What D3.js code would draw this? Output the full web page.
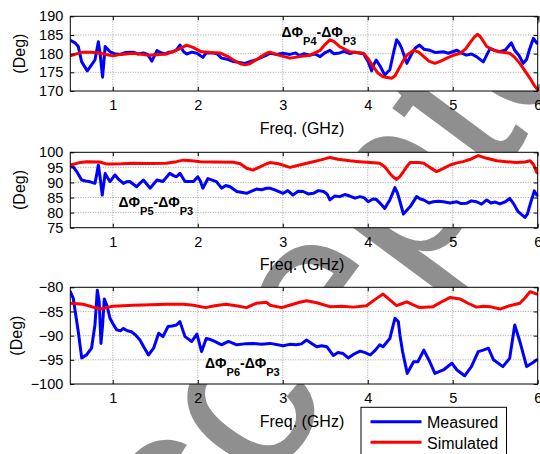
<!DOCTYPE html>
<html>
<head>
<meta charset="utf-8">
<script src="https://cdn.jsdelivr.net/npm/d3@7"></script>
<style>
  html, body { margin: 0; padding: 0; background: #fff; }
  svg { display: block; }
  text { font-family: "Liberation Sans", Arial, sans-serif; }
</style>
</head>
<body>
<svg id="chart" width="540" height="454"></svg>
<script>
// Frequency ticks shared by all three panels (GHz)
const freqTicks = [1, 2, 3, 4, 5, 6];
const freqDomain = [0.5, 6];

// Y tick labels per panel (deg)
const yTicksP4 = [170, 175, 180, 185, 190];
const yTicksP5 = [75, 80, 85, 90, 95, 100];
const yTicksP6 = [-100, -95, -90, -85, -80];

// ΔΦP4 - ΔΦP3 : [freq GHz, phase deg]
const p4Measured = [[0.5,183.6],[0.555,182.9],[0.594,181.9],[0.634,177.8],[0.70,175.4],[0.75,177],[0.79,178.3],[0.83,183.2],[0.85,180.1],[0.88,173.7],[0.91,181.9],[0.967,180.5],[1.02,180.0],[1.085,179.8],[1.15,180.3],[1.24,180.4],[1.3,179.9],[1.36,180.2],[1.41,179.8],[1.46,178.0],[1.52,180.8],[1.56,180.3],[1.61,179.9],[1.66,180.4],[1.71,180.5],[1.75,181.0],[1.79,182.3],[1.83,180.6],[1.87,179.9],[1.93,180.4],[1.99,180.1],[2.06,179.0],[2.1,180.2],[2.18,180.2],[2.23,179.9],[2.28,178.8],[2.35,178.5],[2.42,177.9],[2.555,177.4],[2.62,177.9],[2.69,178.4],[2.75,179.0],[2.81,179.6],[2.85,180.1],[2.92,179.8],[3.0,180.1],[3.085,179.8],[3.15,180.2],[3.2,179.5],[3.25,180.0],[3.32,179.6],[3.38,179.9],[3.44,179.2],[3.5,180.3],[3.555,180.9],[3.6,180.0],[3.67,180.2],[3.72,180.6],[3.79,180.0],[3.85,180.4],[3.95,180.0],[4.006,177.8],[4.046,175.4],[4.07,177.0],[4.10,178.3],[4.15,176.5],[4.20,174.3],[4.26,175.7],[4.31,180.9],[4.34,183.7],[4.37,182.8],[4.40,181.4],[4.46,177.4],[4.52,180.1],[4.56,181.5],[4.61,182.3],[4.66,181.2],[4.73,180.9],[4.8,180.3],[4.89,180.5],[4.95,180.1],[5.05,180.9],[5.1,180.2],[5.16,179.6],[5.22,179.9],[5.28,179.2],[5.36,177.8],[5.44,181.4],[5.5,180.8],[5.555,180.5],[5.62,181.0],[5.69,182.9],[5.73,180.9],[5.78,179.5],[5.83,177.4],[5.87,178.5],[5.90,180.9],[5.95,184.1],[5.99,182.8]];
const p4Simulated = [[0.5,179.4],[0.58,180.0],[0.65,180.4],[0.75,180.4],[0.85,180.1],[1.0,179.4],[1.1,179.8],[1.24,180.1],[1.43,179.6],[1.63,179.9],[1.75,180.9],[1.87,182.3],[1.95,181.6],[2.03,180.6],[2.15,180.3],[2.26,180.2],[2.35,179.3],[2.42,178.3],[2.5,177.3],[2.555,177.0],[2.6,177.2],[2.65,177.8],[2.73,179.0],[2.81,180.1],[2.85,180.4],[2.95,179.6],[3.085,178.8],[3.2,179.2],[3.32,179.6],[3.44,180.9],[3.5,182.5],[3.555,183.7],[3.6,183.3],[3.67,181.9],[3.79,180.5],[3.95,180.1],[4.0,178.8],[4.065,176.5],[4.12,174.8],[4.18,173.8],[4.28,173.4],[4.32,174.0],[4.36,175.7],[4.41,177.8],[4.46,179.6],[4.54,180.9],[4.6,180.4],[4.66,179.2],[4.72,178.0],[4.79,177.4],[4.86,178.0],[4.93,178.8],[5.0,179.5],[5.085,180.1],[5.15,181.2],[5.20,182.8],[5.25,184.3],[5.29,185.2],[5.33,184.4],[5.40,181.9],[5.48,180.9],[5.555,180.5],[5.67,180.1],[5.73,179.0],[5.79,177.4],[5.85,175.4],[5.91,173.4],[5.96,171.5],[6.0,170.3]];

// ΔΦP5 - ΔΦP3
const p5Measured = [[0.5,95.8],[0.54,95.0],[0.575,93.6],[0.634,90.8],[0.68,90.5],[0.725,90.3],[0.79,89.7],[0.81,92.5],[0.83,95.8],[0.85,91.9],[0.876,85.8],[0.91,93.0],[0.94,91.5],[0.967,90.3],[1.026,92.5],[1.07,91.0],[1.125,89.7],[1.16,90.2],[1.2,90.3],[1.28,88.6],[1.36,90.8],[1.44,88.1],[1.52,90.8],[1.59,90.3],[1.67,93.0],[1.72,92.2],[1.75,91.9],[1.79,93.0],[1.85,90.3],[1.95,90.3],[2.0,91.9],[2.03,90.5],[2.06,88.1],[2.12,91.3],[2.22,90.3],[2.28,88.1],[2.33,89.0],[2.38,88.6],[2.46,87.0],[2.575,86.4],[2.64,87.2],[2.69,87.8],[2.75,87.6],[2.81,88.1],[2.85,88.1],[2.92,87.4],[3.005,86.4],[3.06,87.3],[3.12,85.8],[3.18,87.1],[3.24,87.0],[3.3,86.2],[3.36,86.4],[3.42,87.3],[3.48,87.0],[3.52,86.2],[3.555,84.2],[3.61,85.5],[3.67,85.3],[3.73,86.0],[3.79,85.5],[3.85,84.8],[3.91,85.3],[3.96,84.9],[4.006,83.6],[4.06,84.5],[4.10,84.4],[4.15,83.0],[4.20,81.4],[4.26,84.2],[4.32,88.3],[4.35,86.5],[4.38,83.6],[4.42,79.5],[4.46,80.8],[4.50,82.0],[4.575,85.3],[4.62,84.5],[4.66,84.2],[4.72,83.2],[4.77,83.6],[4.83,83.8],[4.89,83.6],[4.97,83.2],[5.05,83.6],[5.1,83.0],[5.16,83.1],[5.22,83.9],[5.28,83.6],[5.34,82.8],[5.40,84.2],[5.45,83.2],[5.50,83.5],[5.555,82.9],[5.62,83.6],[5.67,84.7],[5.72,82.8],[5.77,80.3],[5.85,78.4],[5.88,79.6],[5.91,82.6],[5.96,87.2],[5.99,85.8]];
const p5Simulated = [[0.5,95.8],[0.6,96.5],[0.69,96.9],[0.85,96.8],[0.93,96.1],[1.1,96.2],[1.24,96.4],[1.4,96.3],[1.63,96.4],[1.75,96.9],[1.83,97.4],[1.93,97.2],[2.03,96.9],[2.2,96.8],[2.42,96.7],[2.5,96.2],[2.575,94.7],[2.65,94.1],[2.72,95.0],[2.81,96.2],[2.85,96.6],[2.95,96.2],[3.085,95.0],[3.2,95.8],[3.32,96.6],[3.45,97.5],[3.555,98.3],[3.65,97.7],[3.79,97.2],[3.9,96.9],[4.03,96.6],[4.14,96.4],[4.2,95.2],[4.26,93.0],[4.30,91.8],[4.34,91.0],[4.38,92.0],[4.42,93.6],[4.46,95.3],[4.50,96.6],[4.6,96.6],[4.66,96.4],[4.73,95.0],[4.81,93.6],[4.88,94.5],[4.97,95.8],[5.05,96.5],[5.12,96.9],[5.2,97.6],[5.30,98.9],[5.4,98.0],[5.52,97.2],[5.63,96.9],[5.75,96.6],[5.85,96.8],[5.91,97.2],[5.95,96.0],[5.99,93.2]];

// ΔΦP6 - ΔΦP3
const p6Measured = [[0.5,-80.9],[0.535,-82.3],[0.594,-89.2],[0.634,-94.6],[0.69,-94.0],[0.75,-92.6],[0.79,-87.8],[0.818,-80.6],[0.84,-83.0],[0.861,-91.6],[0.88,-87.8],[0.90,-82.4],[0.93,-83.7],[0.967,-86.4],[1.0,-87.5],[1.046,-88.8],[1.09,-89.0],[1.125,-88.5],[1.17,-89.0],[1.22,-89.2],[1.27,-89.9],[1.32,-90.9],[1.37,-92.5],[1.42,-94.0],[1.48,-92.6],[1.54,-89.5],[1.59,-90.2],[1.65,-88.1],[1.7,-88.0],[1.75,-87.8],[1.79,-87.1],[1.85,-90.2],[1.93,-91.2],[1.99,-89.7],[2.045,-93.3],[2.10,-90.6],[2.15,-90.8],[2.20,-91.2],[2.28,-91.9],[2.36,-91.2],[2.46,-91.9],[2.55,-91.7],[2.65,-91.6],[2.75,-91.8],[2.85,-91.6],[3.005,-92.1],[3.08,-91.8],[3.16,-91.9],[3.22,-91.7],[3.28,-90.9],[3.34,-91.6],[3.40,-92.3],[3.46,-92.1],[3.52,-92.3],[3.594,-94.1],[3.65,-93.5],[3.71,-93.7],[3.77,-94.6],[3.84,-93.8],[3.91,-93.2],[3.97,-93.5],[4.03,-94.0],[4.09,-93.0],[4.14,-91.9],[4.18,-92.3],[4.26,-90.6],[4.29,-88.5],[4.32,-86.4],[4.36,-87.1],[4.38,-90.0],[4.41,-93.3],[4.465,-97.8],[4.54,-95.4],[4.59,-95.4],[4.66,-93.0],[4.73,-95.4],[4.79,-97.8],[4.89,-97.1],[4.99,-95.7],[5.05,-97.1],[5.14,-98.3],[5.22,-96.4],[5.30,-93.3],[5.36,-93.0],[5.42,-92.6],[5.48,-95.0],[5.59,-96.4],[5.67,-94.7],[5.73,-87.8],[5.79,-91.2],[5.87,-96.4],[5.95,-95.5],[5.99,-95.0]];
const p6Simulated = [[0.5,-83.3],[0.65,-83.5],[0.79,-84.2],[0.86,-84.5],[0.93,-84.2],[1.0,-83.9],[1.24,-83.7],[1.45,-83.6],[1.63,-83.5],[1.83,-83.5],[1.95,-83.7],[2.09,-84.2],[2.2,-83.8],[2.33,-83.5],[2.45,-83.8],[2.575,-84.2],[2.65,-83.6],[2.69,-83.3],[2.81,-83.1],[2.85,-83.7],[2.99,-84.2],[3.1,-83.6],[3.2,-83.1],[3.28,-82.8],[3.4,-83.2],[3.555,-84.0],[3.7,-83.9],[3.83,-84.1],[3.985,-83.8],[4.08,-82.6],[4.18,-81.4],[4.26,-82.6],[4.34,-83.8],[4.40,-83.4],[4.46,-83.0],[4.53,-83.6],[4.61,-84.2],[4.77,-84.0],[4.87,-83.0],[4.97,-82.1],[5.085,-82.4],[5.18,-83.3],[5.28,-84.1],[5.36,-83.9],[5.44,-84.0],[5.555,-84.5],[5.67,-83.8],[5.79,-83.3],[5.85,-82.2],[5.91,-80.9],[5.96,-81.2],[5.99,-81.4]];

const seriesNames = ["Measured", "Simulated"];
const seriesColors = { Measured: "#0000ff", Simulated: "#ff0000" };

const svg = d3.select("#chart");

// Grey stamp lettering, sitting behind the white panels (kept below the top margin)
svg.append("clipPath").attr("id", "stamp-clip")
  .append("rect").attr("x", 0).attr("y", 16).attr("width", 540).attr("height", 438);
svg.append("g")
  .attr("clip-path", "url(#stamp-clip)")
  .append("text")
  .attr("transform", "translate(99,715) rotate(-53.5)")
  .attr("font-family", "'Liberation Serif', serif")
  .attr("font-size", 237)
  .attr("fill", "#8f8f8f")
  .text("Accepted");

const left = 70.3, right = 537.7;
const x = d3.scaleLinear().domain(freqDomain).range([left, right]);

const panels = [
  { id: "p4", measured: p4Measured, simulated: p4Simulated, yDomain: [170, 190], yTicks: yTicksP4,
    top: 16.3, bottom: 91, sub1: "P4", sub2: "P3", lx: 281.5, ly: 37, ylabX: 25 },
  { id: "p5", measured: p5Measured, simulated: p5Simulated, yDomain: [75, 100], yTicks: yTicksP5,
    top: 152.3, bottom: 227.7, sub1: "P5", sub2: "P3", lx: 118.5, ly: 206.5, ylabX: 25 },
  { id: "p6", measured: p6Measured, simulated: p6Simulated, yDomain: [-100, -80], yTicks: yTicksP6,
    top: 287.3, bottom: 384, sub1: "P6", sub2: "P3", lx: 205, ly: 368, ylabX: 21.5 }
];

panels.forEach(p => {
  const y = d3.scaleLinear().domain(p.yDomain).range([p.bottom, p.top]);
  const g = svg.append("g");

  // plot background
  g.append("rect")
    .attr("x", left).attr("y", p.top)
    .attr("width", right - left).attr("height", p.bottom - p.top)
    .attr("fill", "#fff");

  // dotted grid
  g.append("g").selectAll("line")
    .data(freqTicks.filter(t => t < freqDomain[1]))
    .join("line")
    .attr("x1", d => x(d)).attr("x2", d => x(d))
    .attr("y1", p.top).attr("y2", p.bottom)
    .attr("stroke", "#8a8a8a").attr("stroke-width", 0.8)
    .attr("stroke-dasharray", "1,1.5");
  g.append("g").selectAll("line")
    .data(p.yTicks.slice(1, -1))
    .join("line")
    .attr("x1", left).attr("x2", right)
    .attr("y1", d => y(d)).attr("y2", d => y(d))
    .attr("stroke", "#8a8a8a").attr("stroke-width", 0.8)
    .attr("stroke-dasharray", "1,1.5");

  // series lines
  const clipId = "clip-" + p.id;
  svg.append("clipPath").attr("id", clipId)
    .append("rect").attr("x", left).attr("y", p.top - 2)
    .attr("width", right - left + 1).attr("height", p.bottom - p.top + 4);
  const line = d3.line().x(d => x(d[0])).y(d => y(d[1]));
  [["Measured", p.measured], ["Simulated", p.simulated]].forEach(([name, data]) => {
    g.append("path")
      .datum(data)
      .attr("d", line)
      .attr("fill", "none")
      .attr("stroke", seriesColors[name])
      .attr("stroke-width", 3)
      .attr("stroke-linejoin", "round")
      .attr("stroke-linecap", "round")
      .attr("clip-path", `url(#${clipId})`);
  });

  // axes: bottom/left labelled, mirrored inward ticks on top/right
  const xAxisB = d3.axisBottom(x).tickValues(freqTicks).tickFormat(d3.format("d"))
    .tickSizeInner(-4).tickSizeOuter(0).tickPadding(9);
  const xAxisT = d3.axisTop(x).tickValues(freqTicks).tickSizeInner(-4).tickSizeOuter(0).tickFormat("");
  const yAxisL = d3.axisLeft(y).tickValues(p.yTicks).tickFormat(d3.format("d"))
    .tickSizeInner(-4).tickSizeOuter(0).tickPadding(7);
  const yAxisR = d3.axisRight(y).tickValues(p.yTicks).tickSizeInner(-4).tickSizeOuter(0).tickFormat("");

  const styleAxis = sel => {
    sel.select(".domain").remove();
    sel.selectAll("line").attr("stroke", "#000");
    sel.selectAll("text")
      .attr("fill", "#000")
      .attr("font-size", 14.5)
      .attr("font-family", "'Liberation Sans', Arial, sans-serif");
  };
  g.append("g").attr("transform", `translate(0,${p.bottom})`).call(xAxisB).call(styleAxis);
  g.append("g").attr("transform", `translate(0,${p.top})`).call(xAxisT).call(styleAxis);
  g.append("g").attr("transform", `translate(${left},0)`).call(yAxisL).call(styleAxis);
  g.append("g").attr("transform", `translate(${right},0)`).call(yAxisR).call(styleAxis);

  // frame
  g.append("rect")
    .attr("x", left).attr("y", p.top)
    .attr("width", right - left).attr("height", p.bottom - p.top)
    .attr("fill", "none").attr("stroke", "#000").attr("stroke-width", 1);

  // axis titles
  g.append("text")
    .attr("x", 302).attr("y", p.bottom + 42.5)
    .attr("text-anchor", "middle").attr("font-size", 16)
    .text("Freq. (GHz)");
  g.append("text")
    .attr("transform", `translate(${p.ylabX},${(p.top + p.bottom) / 2}) rotate(-90)`)
    .attr("text-anchor", "middle").attr("font-size", 16)
    .text("(Deg)");

  // phase-difference annotation
  const t = g.append("text")
    .attr("x", p.lx).attr("y", p.ly)
    .attr("font-weight", "bold").attr("font-size", 14);
  t.append("tspan").text("ΔΦ");
  t.append("tspan").attr("dy", 8).attr("font-size", 11).text(p.sub1);
  t.append("tspan").attr("dy", -8).text("-ΔΦ");
  t.append("tspan").attr("dy", 8).attr("font-size", 11).text(p.sub2);
});

// legend
const lg = svg.append("g");
lg.append("rect")
  .attr("x", 361).attr("y", 407.3).attr("width", 145.5).attr("height", 60)
  .attr("fill", "#fff").attr("stroke", "#000").attr("stroke-width", 1);
seriesNames.forEach((name, i) => {
  const yy = 421.7 + i * 20.6;
  lg.append("line")
    .attr("x1", 370.5).attr("x2", 421.5).attr("y1", yy).attr("y2", yy)
    .attr("stroke", seriesColors[name]).attr("stroke-width", 3);
  lg.append("text")
    .attr("x", 427).attr("y", yy + 6.3)
    .attr("font-size", 16).text(name);
});
</script>
</body>
</html>
